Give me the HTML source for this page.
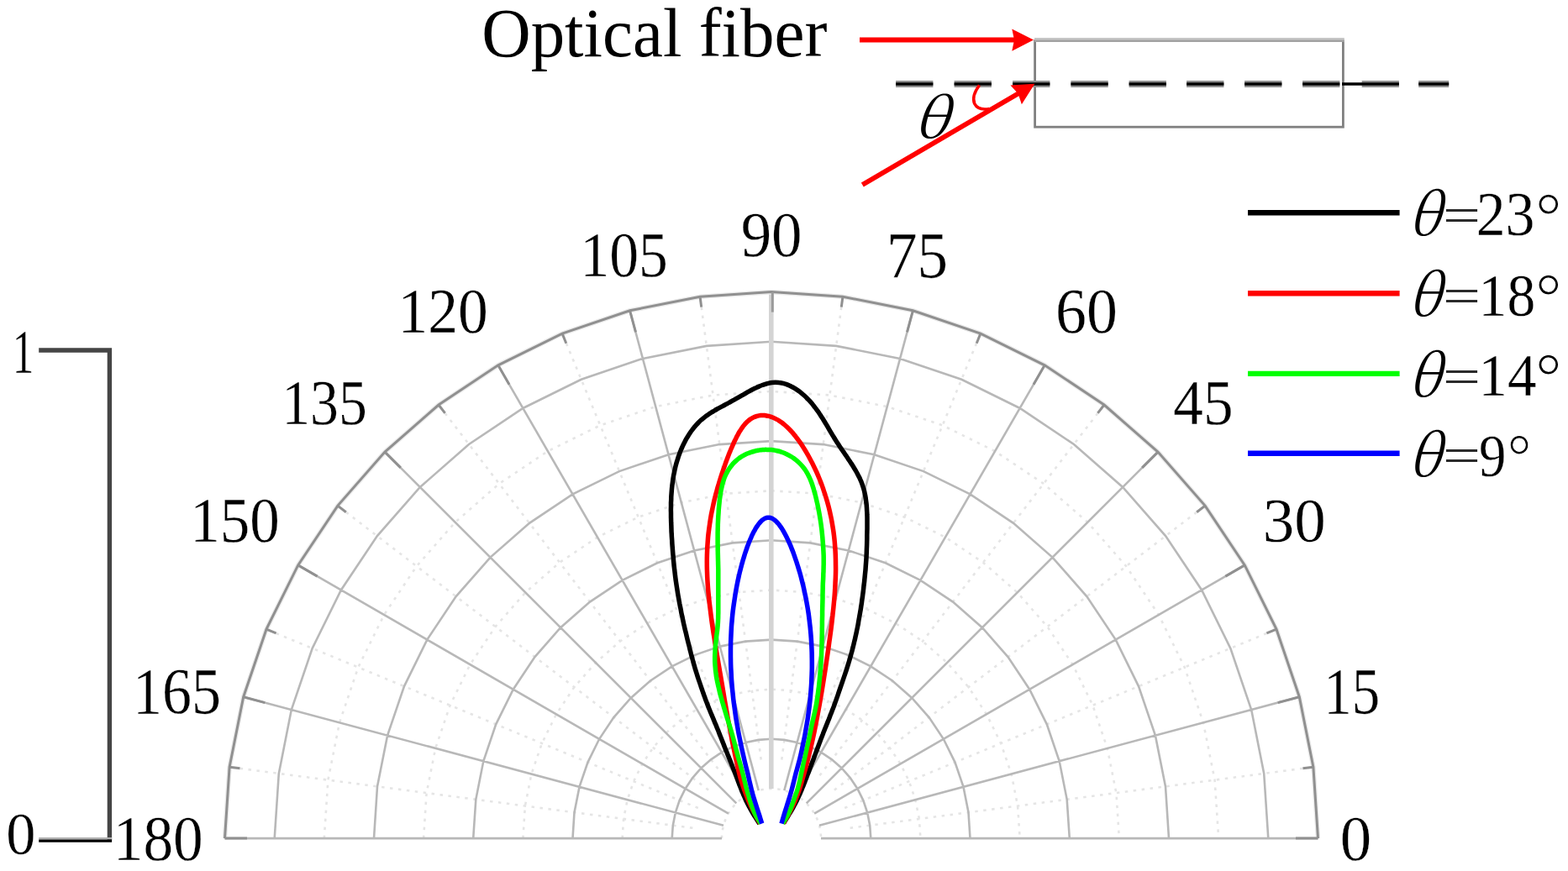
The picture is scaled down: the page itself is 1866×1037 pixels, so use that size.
<!DOCTYPE html>
<html lang="en">
<head>
<meta charset="utf-8">
<title>Optical fiber polar plot</title>
<style>
html,body{margin:0;padding:0;background:#fff;}
body{width:1866px;height:1037px;overflow:hidden;}
svg{display:block;}
text{font-family:"Liberation Serif","DejaVu Serif",serif;}
.th{font-family:"Noto Serif CJK SC","Liberation Serif",serif;font-weight:400;}
</style>
</head>
<body>
<svg width="1866" height="1037" viewBox="0 0 1866 1037">
<rect width="1866" height="1037" fill="#fff"/>
<g fill="none">
<path d="M858.9 998.1L859.4 990.4L860.9 982.8L863.4 975.5L866.8 968.5L871.1 962.1L876.2 956.3L882 951.2L888.4 946.9L895.4 943.5L902.7 941L910.3 939.5L918 939L925.7 939.5L933.3 941L940.6 943.5L947.6 946.9L954 951.2L959.8 956.3L964.9 962.1L969.2 968.5L972.6 975.5L975.1 982.8L976.6 990.4L977.1 998.1M740.6 998.1L742.1 974.9L746.7 952.2L754.1 930.2L764.4 909.4L777.3 890.1L792.6 872.7L810 857.4L829.3 844.5L850.1 834.2L872.1 826.8L894.8 822.2L918 820.7L941.2 822.2L963.9 826.8L985.9 834.2L1006.7 844.5L1026 857.4L1043.4 872.7L1058.7 890.1L1071.6 909.4L1081.9 930.2L1089.3 952.2L1093.9 974.9L1095.4 998.1M622.4 998.1L624.9 959.5L632.4 921.6L644.9 885L662 850.3L683.4 818.1L708.9 789L738 763.5L770.2 742.1L804.9 725L841.5 712.5L879.4 705L918 702.5L956.6 705L994.5 712.5L1031.1 725L1065.8 742.1L1098 763.5L1127.1 789L1152.6 818.1L1174 850.3L1191.1 885L1203.6 921.6L1211.1 959.5L1213.7 998.1M504.1 998.1L507.6 944.1L518.2 891L535.6 839.7L559.5 791.1L589.6 746.1L625.3 705.4L666 669.7L711 639.6L759.6 615.7L810.9 598.3L864 587.7L918 584.2L972 587.7L1025.1 598.3L1076.4 615.7L1125 639.6L1170 669.7L1210.7 705.4L1246.4 746.1L1276.5 791.1L1300.4 839.7L1317.8 891L1328.4 944.1L1331.9 998.1M385.8 998.1L390.4 928.6L404 860.4L426.3 794.4L457.1 732L495.8 674.1L541.7 621.8L594 575.9L651.9 537.2L714.3 506.4L780.3 484.1L848.5 470.5L918 465.9L987.5 470.5L1055.7 484.1L1121.7 506.4L1184.1 537.2L1242 575.9L1294.3 621.8L1340.2 674.1L1378.9 732L1409.7 794.4L1432 860.4L1445.6 928.6L1450.2 998.1M1011.6 985.8L1562.9 913.2M1005.2 962L1519 749.2M992.9 940.6L1434.1 602.1M975.5 923.2L1314 482M954.1 910.9L1166.9 397.1M930.3 904.5L1002.9 353.2M905.7 904.5L833.1 353.2M881.9 910.9L669.1 397.1M860.5 923.2L522 482M843.1 940.6L401.9 602.1M830.8 962L317 749.2M824.4 985.8L273.1 913.2" stroke="#e5e5e5" stroke-width="2.6" stroke-dasharray="3.5 6.5"/>
<path d="M799.7 998.1L800.8 982.7L803.8 967.5L808.7 952.8L815.6 939L824.2 926.1L834.4 914.5L846 904.3L858.9 895.7L872.7 888.8L887.4 883.9L902.6 880.9L918 879.8L933.4 880.9L948.6 883.9L963.3 888.8L977.1 895.7L990 904.3L1001.6 914.5L1011.8 926.1L1020.4 939L1027.3 952.8L1032.2 967.5L1035.2 982.7L1036.3 998.1M681.5 998.1L683.5 967.2L689.5 936.9L699.5 907.6L713.2 879.8L730.4 854.1L750.8 830.9L774 810.5L799.7 793.3L827.5 779.6L856.8 769.6L887.1 763.6L918 761.6L948.9 763.6L979.2 769.6L1008.5 779.6L1036.3 793.3L1062 810.5L1085.2 830.9L1105.6 854.1L1122.8 879.8L1136.5 907.6L1146.5 936.9L1152.5 967.2L1154.5 998.1M563.2 998.1L566.3 951.8L575.3 906.3L590.2 862.3L610.8 820.7L636.5 782.1L667.1 747.2L702 716.6L740.6 690.9L782.2 670.3L826.2 655.4L871.7 646.4L918 643.3L964.3 646.4L1009.8 655.4L1053.8 670.3L1095.4 690.9L1134 716.6L1168.9 747.2L1199.5 782.1L1225.2 820.7L1245.8 862.3L1260.7 906.3L1269.7 951.8L1272.8 998.1M445 998.1L449 936.4L461.1 875.7L481 817.1L508.3 761.6L542.7 710.1L583.5 663.6L630 622.8L681.5 588.4L737 561.1L795.6 541.2L856.3 529.1L918 525.1L979.7 529.1L1040.4 541.2L1099 561.1L1154.5 588.4L1206 622.8L1252.5 663.6L1293.3 710.1L1327.7 761.6L1355 817.1L1374.9 875.7L1387 936.4L1391 998.1M326.7 998.1L331.8 920.9L346.8 845.1L371.7 771.8L405.9 702.5L448.9 638.1L499.9 580L558 529L622.4 486L691.7 451.8L765 426.9L840.8 411.9L918 406.8L995.2 411.9L1071 426.9L1144.3 451.8L1213.7 486L1278 529L1336.1 580L1387.1 638.1L1430.1 702.5L1464.3 771.8L1489.2 845.1L1504.2 920.9L1509.3 998.1M977 998.1L1568.5 998.1M975 982.8L1546.3 829.7M969.1 968.6L1481.3 672.9M959.7 956.4L1378 538.1M947.5 947L1243.2 434.8M933.3 941.1L1086.4 369.8M902.7 941.1L749.6 369.8M888.5 947L592.8 434.8M876.3 956.4L458 538.1M866.9 968.6L354.7 672.9M861 982.8L289.7 829.7M859 998.1L267.5 998.1" stroke="#b8b8b8" stroke-width="2.6"/>
<path d="M917.8 939.1V347.6" stroke="#d4d4d4" stroke-width="5.6"/>
<path d="M267.5 998.1L273.1 913.2L289.7 829.7L317 749.2L354.7 672.9L401.9 602.1L458 538.1L522 482L592.8 434.8L669.1 397.1L749.6 369.8L833.1 353.2L918 347.6L1002.9 353.2L1086.4 369.8L1166.9 397.1L1243.2 434.8L1314 482L1378 538.1L1434.1 602.1L1481.3 672.9L1519 749.2L1546.3 829.7L1562.9 913.2L1568.5 998.1" stroke="#ebebeb" stroke-width="5.6"/>
<path d="M267.5 998.1L273.1 913.2L289.7 829.7L317 749.2L354.7 672.9L401.9 602.1L458 538.1L522 482L592.8 434.8L669.1 397.1L749.6 369.8L833.1 353.2L918 347.6L1002.9 353.2L1086.4 369.8L1166.9 397.1L1243.2 434.8L1314 482L1378 538.1L1434.1 602.1L1481.3 672.9L1519 749.2L1546.3 829.7L1562.9 913.2L1568.5 998.1M1542 998.1L1568.5 998.1M1520.7 836.6L1546.3 829.7M1458.4 686.1L1481.3 672.9M1359.2 556.9L1378 538.1M1230 457.7L1243.2 434.8M1079.5 395.4L1086.4 369.8M756.5 395.4L749.6 369.8M606 457.7L592.8 434.8M476.8 556.9L458 538.1M377.6 686.1L354.7 672.9M315.3 836.6L289.7 829.7M294 998.1L267.5 998.1M1550.5 914.8L1562.9 913.2M1507.4 753.9L1519 749.2M1424.2 609.7L1434.1 602.1M1306.4 491.9L1314 482M1162.2 408.7L1166.9 397.1M1001.3 365.6L1002.9 353.2M834.7 365.6L833.1 353.2M673.8 408.7L669.1 397.1M529.6 491.9L522 482M411.8 609.7L401.9 602.1M328.6 753.9L317 749.2M285.5 914.8L273.1 913.2" stroke="#909090" stroke-width="3"/>
<path d="M919.3 347.6v24" stroke="#9a9a9a" stroke-width="3"/>
</g>
<g fill="none" stroke-linejoin="round">
<path d="M903.8 980.5C903.4 980 902.3 978.3 901.6 977.2C900.9 976.1 900.1 974.9 899.4 973.8C898.7 972.7 898 971.5 897.3 970.4C896.6 969.3 895.9 968.1 895.2 967C894.5 965.9 893.9 964.7 893.2 963.5C892.6 962.3 891.9 961.2 891.3 960C890.7 958.8 890.1 957.7 889.5 956.5C888.9 955.3 888.3 954.1 887.7 952.9C887.1 951.7 886.6 950.5 886.1 949.3C885.6 948.1 885 946.8 884.5 945.6C884 944.4 883.4 943.1 882.9 941.9C882.4 940.7 882 939.4 881.5 938.2C881 937 880.5 935.8 880 934.5C879.5 933.2 879.1 932 878.6 930.7C878.1 929.5 877.7 928.2 877.2 927C876.7 925.8 876.3 924.5 875.8 923.3C875.3 922 874.9 920.8 874.4 919.5C873.9 918.2 873.4 917 872.9 915.8C872.4 914.6 872 913.4 871.5 912.1C871 910.9 870.5 909.5 870 908.3C869.5 907 869 905.8 868.5 904.6C868 903.4 867.5 902.1 867 900.9C866.5 899.7 866 898.4 865.5 897.2C865 896 864.5 894.7 864 893.5C863.5 892.3 863 891 862.5 889.8C862 888.6 861.6 887.3 861.1 886.1C860.6 884.9 860.1 883.6 859.6 882.4C859.1 881.1 858.6 879.9 858.1 878.6C857.6 877.4 857.1 876.1 856.6 874.9C856.1 873.7 855.7 872.4 855.2 871.2C854.7 870 854.2 868.7 853.7 867.5C853.2 866.3 852.7 865 852.2 863.8C851.7 862.6 851.1 861.3 850.6 860.1C850.1 858.9 849.6 857.6 849.1 856.4C848.6 855.2 848.1 853.9 847.6 852.7C847.1 851.5 846.5 850.2 846 849C845.5 847.8 845 846.5 844.5 845.3C844 844.1 843.5 842.8 843 841.6C842.5 840.4 842.1 839.1 841.6 837.9C841.1 836.6 840.6 835.4 840.1 834.1C839.6 832.9 839.2 831.6 838.8 830.4C838.3 829.1 837.8 827.9 837.4 826.6C837 825.4 836.5 824.1 836.1 822.9C835.7 821.6 835.2 820.4 834.8 819.1C834.4 817.8 833.9 816.6 833.5 815.3C833.1 814 832.6 812.8 832.2 811.5C831.8 810.2 831.3 809 830.9 807.7C830.5 806.4 830.1 805.2 829.7 803.9C829.3 802.6 828.9 801.4 828.5 800.1C828.1 798.8 827.7 797.6 827.3 796.3C826.9 795 826.6 793.7 826.2 792.4C825.8 791.1 825.5 789.9 825.1 788.6C824.8 787.3 824.5 786 824.1 784.7C823.8 783.4 823.4 782.2 823 780.9C822.6 779.6 822.3 778.3 822 777C821.7 775.7 821.3 774.4 821 773.1C820.7 771.8 820.4 770.5 820.1 769.2C819.8 767.9 819.4 766.6 819.1 765.3C818.8 764 818.4 762.8 818.1 761.5C817.8 760.2 817.5 758.9 817.2 757.6C816.9 756.3 816.6 755 816.3 753.7C816 752.4 815.6 751.1 815.3 749.8C815 748.5 814.7 747.2 814.4 745.9C814.1 744.6 813.8 743.3 813.5 742C813.2 740.7 813 739.4 812.7 738.1C812.4 736.8 812.2 735.5 811.9 734.2C811.6 732.9 811.3 731.6 811 730.3C810.7 729 810.5 727.6 810.3 726.3C810 725 809.8 723.7 809.5 722.4C809.2 721.1 809 719.8 808.7 718.5C808.5 717.2 808.2 715.9 808 714.6C807.8 713.3 807.5 711.9 807.3 710.6C807.1 709.3 806.8 708 806.6 706.7C806.4 705.4 806.2 704 806 702.7C805.8 701.4 805.6 700.1 805.4 698.8C805.2 697.5 805 696.1 804.8 694.8C804.6 693.5 804.4 692.2 804.2 690.9C804 689.6 803.9 688.2 803.7 686.9C803.5 685.6 803.4 684.2 803.2 682.9C803.1 681.6 802.9 680.3 802.8 679C802.6 677.7 802.4 676.3 802.3 675C802.1 673.7 802 672.3 801.9 671C801.8 669.7 801.6 668.3 801.5 667C801.4 665.7 801.3 664.3 801.2 663C801.1 661.7 800.9 660.3 800.8 659C800.7 657.7 800.6 656.3 800.5 655C800.4 653.7 800.3 652.3 800.2 651C800.1 649.7 800 648.4 799.9 647.1C799.8 645.8 799.8 644.4 799.7 643.1C799.6 641.8 799.5 640.5 799.4 639.1C799.3 637.8 799.3 636.4 799.2 635C799.1 633.6 799 632.3 799 631C799 629.7 798.9 628.3 798.9 627C798.9 625.7 798.8 624.3 798.7 623C798.7 621.7 798.6 620.3 798.6 619C798.6 617.7 798.5 616.3 798.5 615C798.5 613.7 798.5 612.3 798.5 611C798.5 609.7 798.4 608.3 798.4 607C798.4 605.7 798.5 604.3 798.5 603C798.5 601.7 798.5 600.3 798.5 599C798.5 597.7 798.7 596.3 798.7 595C798.8 593.7 798.7 592.4 798.8 591.1C798.9 589.8 799 588.4 799.1 587.1C799.2 585.8 799.3 584.4 799.4 583.1C799.5 581.8 799.6 580.4 799.8 579.1C799.9 577.8 800.1 576.5 800.3 575.2C800.5 573.9 800.6 572.5 800.8 571.2C801 569.9 801.2 568.6 801.4 567.3C801.6 566 801.9 564.7 802.2 563.4C802.5 562.1 802.7 560.7 803 559.4C803.3 558.1 803.6 556.8 803.9 555.5C804.2 554.2 804.5 552.9 804.9 551.6C805.3 550.3 805.7 549 806.1 547.7C806.5 546.4 806.9 545.2 807.3 543.9C807.7 542.6 808.2 541.4 808.7 540.1C809.2 538.8 809.6 537.5 810.1 536.3C810.6 535 811.2 533.8 811.7 532.6C812.2 531.4 812.8 530.1 813.4 528.9C814 527.7 814.6 526.6 815.2 525.4C815.8 524.2 816.4 523.1 817.1 521.9C817.8 520.7 818.5 519.5 819.2 518.4C819.9 517.3 820.6 516.2 821.4 515.1C822.1 514 822.9 512.9 823.7 511.9C824.5 510.8 825.3 509.8 826.1 508.8C826.9 507.8 827.7 506.9 828.6 505.9C829.5 504.9 830.4 503.9 831.3 503C832.2 502.1 833.1 501.2 834.1 500.3C835.1 499.4 836.1 498.6 837.1 497.8C838.1 497 839.2 496.2 840.2 495.4C841.2 494.6 842.3 493.9 843.4 493.2C844.5 492.5 845.6 491.7 846.7 491C847.8 490.3 849 489.7 850.1 489C851.2 488.3 852.4 487.6 853.5 487C854.6 486.4 855.8 485.7 857 485.1C858.2 484.5 859.4 483.8 860.6 483.2C861.8 482.6 862.9 481.9 864.1 481.3C865.3 480.7 866.5 480 867.7 479.4C868.9 478.8 870 478.1 871.2 477.4C872.4 476.7 873.6 476.1 874.8 475.4C876 474.7 877.1 474.1 878.3 473.4C879.5 472.7 880.7 472 881.9 471.3C883.1 470.6 884.3 470 885.5 469.3C886.7 468.6 888 467.9 889.2 467.2C890.4 466.5 891.6 465.9 892.8 465.2C894 464.5 895.2 463.8 896.5 463.2C897.8 462.6 899 462 900.3 461.4C901.5 460.8 902.8 460.3 904 459.8C905.2 459.3 906.5 458.8 907.8 458.3C909 457.9 910.2 457.5 911.5 457.1C912.8 456.7 914 456.4 915.3 456.1C916.5 455.8 917.8 455.6 919 455.5C920.2 455.4 921.5 455.3 922.8 455.3C924 455.3 925.3 455.3 926.5 455.4C927.7 455.5 928.9 455.8 930.1 456C931.3 456.2 932.6 456.5 933.8 456.9C935 457.2 936.1 457.6 937.3 458.1C938.5 458.6 939.7 459.1 940.9 459.7C942.1 460.3 943.2 460.9 944.3 461.5C945.4 462.1 946.6 462.9 947.7 463.6C948.8 464.3 949.8 465 950.9 465.8C952 466.6 953 467.4 954.1 468.3C955.2 469.2 956.2 470.1 957.2 471C958.2 471.9 959.2 472.9 960.1 473.8C961 474.8 962 475.7 962.9 476.7C963.8 477.7 964.7 478.7 965.6 479.7C966.5 480.7 967.3 481.8 968.1 482.8C968.9 483.9 969.8 484.9 970.6 486C971.4 487.1 972.1 488.1 972.9 489.2C973.7 490.3 974.5 491.4 975.2 492.5C976 493.6 976.7 494.8 977.4 495.9C978.1 497 978.9 498.2 979.6 499.3C980.3 500.4 981 501.6 981.7 502.7C982.4 503.8 983 505 983.7 506.1C984.4 507.2 985.1 508.4 985.8 509.6C986.5 510.8 987.1 511.9 987.8 513.1C988.5 514.3 989.2 515.5 989.9 516.6C990.6 517.8 991.3 518.9 992 520C992.7 521.1 993.4 522.4 994.1 523.5C994.8 524.6 995.6 525.8 996.3 526.9C997 528 997.8 529.2 998.5 530.3C999.2 531.4 1000 532.5 1000.7 533.6C1001.5 534.7 1002.2 535.8 1003 536.9C1003.8 538 1004.5 539.2 1005.3 540.3C1006.1 541.4 1006.9 542.5 1007.6 543.6C1008.4 544.7 1009.1 545.8 1009.8 546.9C1010.5 548 1011.3 549.1 1012 550.2C1012.7 551.3 1013.5 552.4 1014.2 553.5C1014.9 554.6 1015.6 555.8 1016.3 556.9C1017 558 1017.6 559.2 1018.3 560.3C1018.9 561.4 1019.6 562.6 1020.2 563.7C1020.8 564.9 1021.4 566 1022 567.2C1022.6 568.4 1023.2 569.5 1023.7 570.7C1024.2 571.9 1024.7 573 1025.2 574.2C1025.7 575.4 1026.1 576.7 1026.5 577.9C1026.9 579.1 1027.3 580.4 1027.7 581.6C1028.1 582.8 1028.4 584 1028.7 585.3C1029 586.6 1029.2 587.9 1029.5 589.2C1029.8 590.5 1030 591.7 1030.2 593C1030.4 594.3 1030.5 595.7 1030.7 597C1030.9 598.3 1031.1 599.6 1031.2 600.9C1031.3 602.2 1031.4 603.6 1031.5 605C1031.6 606.4 1031.6 607.7 1031.7 609C1031.8 610.3 1031.9 611.6 1031.9 613C1032 614.4 1032 615.7 1032 617.1C1032 618.5 1032 619.8 1032 621.2C1032 622.6 1032 623.9 1032 625.3C1032 626.7 1032 628 1032 629.4C1032 630.8 1031.9 632 1031.9 633.4C1031.9 634.8 1031.8 636.1 1031.8 637.5C1031.8 638.9 1031.8 640.2 1031.8 641.6C1031.8 643 1031.7 644.3 1031.7 645.6C1031.7 646.9 1031.6 648.2 1031.6 649.6C1031.5 651 1031.5 652.4 1031.4 653.7C1031.4 655.1 1031.3 656.4 1031.3 657.7C1031.2 659 1031.2 660.4 1031.1 661.7C1031 663.1 1031 664.4 1030.9 665.8C1030.8 667.1 1030.7 668.5 1030.6 669.8C1030.5 671.1 1030.4 672.4 1030.3 673.8C1030.2 675.2 1030.1 676.8 1030 678.2C1029.9 679.6 1029.7 680.9 1029.6 682.2C1029.5 683.5 1029.3 684.9 1029.2 686.2C1029.1 687.5 1028.9 688.9 1028.8 690.2C1028.7 691.5 1028.6 692.9 1028.4 694.2C1028.2 695.5 1028.1 696.8 1027.9 698.1C1027.8 699.4 1027.7 700.8 1027.5 702.1C1027.3 703.4 1027.2 704.8 1027 706.1C1026.8 707.4 1026.7 708.7 1026.5 710C1026.3 711.3 1026.1 712.7 1025.9 714C1025.7 715.3 1025.6 716.7 1025.4 718C1025.2 719.3 1025 720.6 1024.8 721.9C1024.6 723.2 1024.4 724.6 1024.2 725.9C1024 727.2 1023.7 728.5 1023.5 729.8C1023.3 731.1 1023 732.5 1022.8 733.8C1022.6 735.1 1022.3 736.4 1022.1 737.7C1021.9 739 1021.6 740.3 1021.4 741.6C1021.2 742.9 1021 744.3 1020.7 745.6C1020.5 746.9 1020.2 748.2 1019.9 749.5C1019.6 750.8 1019.4 752.1 1019.1 753.4C1018.8 754.7 1018.5 756 1018.2 757.3C1017.9 758.6 1017.7 759.9 1017.4 761.2C1017.1 762.5 1016.7 763.8 1016.4 765.1C1016.1 766.4 1015.8 767.7 1015.5 769C1015.2 770.3 1014.8 771.6 1014.5 772.9C1014.2 774.2 1013.9 775.4 1013.5 776.7C1013.1 778 1012.8 779.3 1012.4 780.6C1012 781.9 1011.7 783.1 1011.3 784.4C1010.9 785.7 1010.6 787 1010.2 788.3C1009.8 789.6 1009.4 790.8 1009 792.1C1008.6 793.4 1008.2 794.6 1007.8 795.9C1007.4 797.2 1007 798.4 1006.6 799.7C1006.2 801 1005.7 802.2 1005.3 803.5C1004.9 804.8 1004.4 806 1004 807.3C1003.6 808.6 1003.1 809.9 1002.7 811.1C1002.3 812.4 1001.8 813.5 1001.4 814.8C1001 816 1000.5 817.3 1000.1 818.6C999.7 819.9 999.2 821.1 998.8 822.4C998.4 823.7 997.9 824.9 997.5 826.2C997.1 827.5 996.6 828.8 996.2 830C995.8 831.2 995.4 832.5 994.9 833.7C994.4 835 994 836.2 993.5 837.5C993 838.8 992.7 840 992.2 841.3C991.7 842.5 991.2 843.8 990.7 845C990.2 846.2 989.8 847.5 989.3 848.7C988.8 850 988.3 851.2 987.8 852.5C987.3 853.8 986.9 855 986.4 856.2C985.9 857.4 985.4 858.7 984.9 859.9C984.4 861.1 983.9 862.4 983.4 863.6C982.9 864.8 982.4 866.1 981.9 867.3C981.4 868.5 980.9 869.8 980.4 871C979.9 872.2 979.5 873.5 979 874.8C978.5 876 978 877.3 977.5 878.5C977 879.7 976.6 881 976.1 882.2C975.6 883.5 975.2 884.8 974.7 886C974.2 887.2 973.8 888.5 973.3 889.7C972.8 891 972.4 892.2 971.9 893.5C971.4 894.8 971 896 970.5 897.2C970 898.4 969.6 899.6 969.1 900.9C968.6 902.1 968.2 903.5 967.7 904.7C967.2 906 966.8 907.1 966.3 908.4C965.8 909.6 965.4 911 964.9 912.2C964.4 913.5 964 914.6 963.5 915.9C963 917.1 962.6 918.5 962.1 919.7C961.6 921 961.1 922.1 960.6 923.4C960.1 924.6 959.7 926 959.2 927.2C958.7 928.5 958.3 929.7 957.8 930.9C957.3 932.1 956.8 933.4 956.3 934.6C955.8 935.8 955.3 937.1 954.8 938.3C954.3 939.5 953.8 940.8 953.3 942C952.8 943.2 952.2 944.5 951.7 945.7C951.2 946.9 950.6 948.1 950 949.3C949.4 950.5 948.9 951.7 948.3 952.9C947.7 954.1 947.1 955.3 946.5 956.5C945.9 957.7 945.2 958.8 944.6 960C944 961.2 943.4 962.4 942.7 963.5C942 964.6 941.3 965.8 940.6 966.9C939.9 968 939.3 969.1 938.6 970.3C937.9 971.4 937.2 972.6 936.5 973.8C935.8 974.9 935 976.2 934.4 977.2C933.8 978.2 933.1 979.3 932.9 979.7" stroke="#000000" stroke-width="5.5"/>
<path d="M904.5 980.5C903.3 978.2 899.4 971.3 897.1 966.7C894.8 962.1 892.6 957.6 890.7 953.1C888.8 948.6 887.1 944.1 885.5 939.7C883.9 935.3 882.5 930.9 881.2 926.5C880 922.1 879 917.9 878 913.6C877 909.3 876.1 905 875.2 900.8C874.3 896.6 873.4 892.4 872.5 888.2C871.6 884 870.9 879.9 870.1 875.8C869.3 871.7 868.5 867.6 867.8 863.6C867 859.6 866.3 855.6 865.6 851.6C864.9 847.6 864.2 843.7 863.5 839.8C862.8 835.9 862.1 832.1 861.5 828.2C860.9 824.4 860.2 820.5 859.6 816.7C859 812.9 858.3 809.2 857.7 805.5C857.1 801.8 856.4 798.1 855.8 794.5C855.2 790.9 854.6 787.3 854 783.7C853.4 780.1 852.8 776.6 852.2 773.1C851.6 769.6 851 766.1 850.5 762.7C850 759.3 849.4 755.9 848.9 752.5C848.4 749.1 847.9 745.8 847.4 742.5C846.9 739.2 846.5 735.9 846.1 732.6C845.7 729.4 845.3 726.2 844.9 723C844.5 719.8 844.1 716.7 843.8 713.6C843.5 710.5 843.2 707.5 842.9 704.4C842.6 701.3 842.4 698.3 842.2 695.3C842 692.3 841.8 689.4 841.7 686.5C841.6 683.6 841.5 680.7 841.4 677.9C841.3 675.1 841.3 672.3 841.3 669.5C841.3 666.7 841.3 663.9 841.4 661.2C841.5 658.5 841.6 655.8 841.7 653.2C841.8 650.6 842 648 842.2 645.4C842.4 642.8 842.5 640.2 842.8 637.7C843 635.2 843.4 632.8 843.7 630.3C844 627.8 844.4 625.4 844.7 623C845.1 620.6 845.4 618.3 845.8 616C846.2 613.7 846.6 611.5 847.1 609.2C847.6 607 848 604.7 848.5 602.5C849 600.3 849.4 598.2 849.9 596.1C850.4 594 851 591.8 851.5 589.8C852 587.8 852.6 585.8 853.1 583.8C853.6 581.8 854.2 579.8 854.8 577.9C855.4 576 855.9 574.1 856.5 572.3C857.1 570.4 857.6 568.6 858.2 566.8C858.8 565 859.4 563.2 860 561.5C860.6 559.8 861.1 558.1 861.7 556.5C862.3 554.9 862.8 553.2 863.4 551.6C864 550 864.5 548.5 865.1 547C865.7 545.5 866.2 544 866.8 542.5C867.4 541 867.9 539.6 868.5 538.2C869.1 536.8 869.6 535.5 870.2 534.2C870.8 532.9 871.4 531.6 871.9 530.3C872.4 529 873 527.8 873.5 526.6C874 525.4 874.7 524.3 875.2 523.2C875.8 522.1 876.2 521 876.8 519.9C877.3 518.8 878 517.8 878.5 516.8C879 515.8 879.6 514.8 880.1 513.9C880.6 513 881.2 512.1 881.8 511.3C882.4 510.5 882.9 509.6 883.5 508.8C884.1 508 884.6 507.2 885.2 506.5C885.8 505.8 886.4 505.1 887 504.4C887.6 503.7 888.2 503.1 888.8 502.5C889.4 501.9 890.1 501.3 890.7 500.8C891.3 500.3 892 499.8 892.6 499.4C893.2 498.9 893.9 498.5 894.6 498.1C895.3 497.7 896 497.3 896.7 497C897.4 496.7 898 496.4 898.7 496.1C899.4 495.8 900.2 495.6 900.9 495.4C901.6 495.2 902.4 495 903.1 494.9C903.8 494.8 904.5 494.7 905.3 494.6C906 494.5 906.8 494.5 907.6 494.5C908.4 494.5 909.1 494.5 909.9 494.6C910.7 494.7 911.5 494.8 912.3 494.9C913.1 495 913.9 495.2 914.7 495.4C915.5 495.6 916.3 495.8 917.1 496.1C917.9 496.4 918.7 496.7 919.5 497C920.3 497.3 921.2 497.7 922 498.1C922.8 498.5 923.7 498.9 924.5 499.4C925.3 499.8 926.2 500.3 927 500.8C927.8 501.3 928.7 501.9 929.5 502.5C930.3 503.1 931.2 503.7 932 504.4C932.8 505.1 933.7 505.8 934.5 506.5C935.3 507.2 936.2 508 937 508.8C937.8 509.6 938.7 510.5 939.5 511.3C940.3 512.1 941.2 513 942 513.9C942.8 514.8 943.7 515.8 944.5 516.8C945.3 517.8 946.2 518.8 947 519.9C947.8 521 948.7 522.1 949.5 523.2C950.3 524.3 951.2 525.4 952 526.6C952.8 527.8 953.7 529 954.5 530.3C955.3 531.6 956.2 532.9 957 534.2C957.8 535.5 958.6 536.8 959.4 538.2C960.2 539.6 961.1 541 961.9 542.5C962.7 544 963.5 545.5 964.3 547C965.1 548.5 965.9 550 966.7 551.6C967.5 553.2 968.3 554.9 969.1 556.5C969.9 558.1 970.7 559.8 971.5 561.5C972.3 563.2 973 565 973.8 566.8C974.5 568.6 975.3 570.4 976 572.3C976.7 574.1 977.5 576 978.2 577.9C978.9 579.8 979.5 581.8 980.2 583.8C980.9 585.8 981.6 587.8 982.2 589.8C982.9 591.8 983.5 594 984.1 596.1C984.7 598.2 985.3 600.3 985.9 602.5C986.5 604.7 987 607 987.5 609.2C988 611.5 988.5 613.7 989 616C989.5 618.3 989.9 620.6 990.3 623C990.7 625.4 991.1 627.8 991.5 630.3C991.9 632.8 992.2 635.2 992.5 637.7C992.8 640.2 993.1 642.8 993.3 645.4C993.5 648 993.7 650.6 993.9 653.2C994.1 655.8 994.2 658.5 994.3 661.2C994.4 663.9 994.5 666.7 994.5 669.5C994.5 672.3 994.6 675.1 994.6 677.9C994.6 680.7 994.5 683.6 994.4 686.5C994.3 689.4 994.1 692.3 994 695.3C993.9 698.3 993.7 701.3 993.5 704.4C993.3 707.5 993.1 710.5 992.8 713.6C992.5 716.7 992.2 719.8 991.9 723C991.6 726.2 991.2 729.4 990.9 732.6C990.5 735.9 990.2 739.2 989.8 742.5C989.4 745.8 989 749.1 988.5 752.5C988 755.9 987.6 759.3 987.1 762.7C986.6 766.1 986.2 769.6 985.7 773.1C985.2 776.6 984.6 780.1 984.1 783.7C983.6 787.3 983 790.9 982.5 794.5C982 798.1 981.4 801.8 980.8 805.5C980.2 809.2 979.6 812.9 979 816.7C978.4 820.5 977.8 824.4 977.1 828.2C976.5 832.1 975.8 835.9 975.1 839.8C974.4 843.7 973.6 847.6 972.9 851.6C972.1 855.6 971.4 859.6 970.6 863.6C969.8 867.6 969 871.7 968.1 875.8C967.2 879.9 966.3 884 965.3 888.2C964.3 892.4 963.3 896.6 962.3 900.8C961.2 905 960.2 909.3 959 913.6C957.8 917.9 956.6 922.1 955.3 926.5C954 930.9 952.9 935.3 951.4 939.7C949.9 944.1 948.3 948.6 946.4 953.1C944.5 957.6 942.2 962.1 939.8 966.7C937.4 971.3 933.4 978.2 932.1 980.5" stroke="#ff0000" stroke-width="5.5"/>
<path d="M905.3 980.5C904.9 979.9 903.9 978.2 903.2 977.1C902.5 976 901.8 974.9 901.1 973.7C900.4 972.6 899.8 971.4 899.2 970.2C898.6 969 898 967.9 897.5 966.7C897 965.5 896.5 964.2 896 963C895.5 961.8 895.1 960.5 894.6 959.2C894.1 958 893.7 956.8 893.3 955.5C892.9 954.2 892.5 952.9 892.1 951.6C891.7 950.3 891.4 949.1 891 947.8C890.6 946.5 890.2 945.3 889.8 944C889.4 942.7 889.1 941.4 888.8 940.1C888.4 938.8 888 937.6 887.7 936.3C887.4 935 887.1 933.7 886.8 932.4C886.5 931.1 886.1 929.8 885.8 928.5C885.5 927.2 885.2 925.9 884.9 924.6C884.6 923.3 884.2 922 883.9 920.7C883.6 919.4 883.2 918.2 882.9 916.9C882.5 915.6 882.2 914.3 881.8 913C881.4 911.7 881.1 910.5 880.7 909.2C880.3 907.9 880 906.6 879.6 905.3C879.2 904 878.9 902.8 878.5 901.5C878.1 900.2 877.9 898.9 877.5 897.6C877.1 896.3 876.8 895.1 876.4 893.8C876 892.5 875.7 891.2 875.4 889.9C875.1 888.6 874.7 887.3 874.4 886C874.1 884.7 873.7 883.5 873.4 882.2C873.1 880.9 872.8 879.6 872.4 878.3C872 877 871.7 875.7 871.3 874.4C870.9 873.1 870.6 871.9 870.2 870.6C869.8 869.3 869.5 868.1 869.1 866.8C868.7 865.5 868.3 864.2 867.9 862.9C867.5 861.6 867.1 860.4 866.7 859.1C866.3 857.8 865.9 856.6 865.5 855.3C865.1 854 864.7 852.8 864.3 851.5C863.9 850.2 863.6 849 863.2 847.7C862.8 846.4 862.4 845.1 862 843.8C861.6 842.5 861.3 841.3 860.9 840C860.5 838.7 860.2 837.5 859.8 836.2C859.4 834.9 859.1 833.6 858.7 832.3C858.3 831 858 829.7 857.6 828.4C857.2 827.1 856.9 825.9 856.6 824.6C856.3 823.3 856 822 855.7 820.7C855.4 819.4 855.1 818.1 854.8 816.8C854.5 815.5 854.2 814.2 853.9 812.9C853.6 811.6 853.4 810.3 853.1 809C852.9 807.7 852.6 806.3 852.4 805C852.2 803.7 852.1 802.4 851.9 801.1C851.7 799.8 851.5 798.4 851.4 797.1C851.3 795.8 851.2 794.5 851.1 793.2C851 791.9 850.9 790.5 850.8 789.2C850.7 787.9 850.7 786.5 850.7 785.2C850.7 783.9 850.7 782.5 850.7 781.2C850.7 779.9 850.8 778.5 850.9 777.2C851 775.9 851 774.5 851.1 773.2C851.2 771.9 851.3 770.5 851.4 769.2C851.5 767.9 851.7 766.5 851.8 765.2C851.9 763.9 852.1 762.6 852.2 761.3C852.4 760 852.5 758.6 852.7 757.3C852.9 756 853 754.6 853.2 753.3C853.4 752 853.6 750.7 853.7 749.4C853.9 748.1 854 746.7 854.1 745.4C854.2 744.1 854.3 742.7 854.4 741.4C854.5 740.1 854.5 738.7 854.6 737.4C854.7 736.1 854.7 734.7 854.7 733.4C854.7 732.1 854.8 730.7 854.8 729.4C854.8 728.1 854.8 726.7 854.8 725.4C854.8 724.1 854.8 722.7 854.8 721.4C854.8 720.1 854.8 718.7 854.8 717.4C854.8 716.1 854.8 714.7 854.8 713.4C854.8 712.1 854.8 710.7 854.8 709.4C854.8 708.1 854.8 706.6 854.8 705.4C854.8 704.2 854.8 703.4 854.8 702.2C854.8 701 854.8 699.5 854.8 698.2C854.8 696.9 854.8 695.5 854.8 694.2C854.8 692.9 854.8 691.5 854.8 690.2C854.8 688.9 854.8 687.5 854.8 686.2C854.8 684.9 854.8 683.5 854.8 682.2C854.8 680.9 854.8 679.5 854.8 678.2C854.8 676.9 854.7 675.6 854.7 674.3C854.7 673 854.6 671.6 854.6 670.3C854.6 669 854.5 667.6 854.5 666.3C854.5 665 854.4 663.6 854.4 662.3C854.4 661 854.3 659.6 854.3 658.3C854.3 657 854.2 655.7 854.2 654.4C854.2 653.1 854.2 651.7 854.2 650.4C854.2 649.1 854.1 647.7 854.1 646.4C854.1 645.1 854.1 643.7 854.1 642.4C854.1 641.1 854.1 639.7 854.1 638.4C854.1 637.1 854.1 635.8 854.1 634.5C854.1 633.2 854.2 631.8 854.2 630.5C854.2 629.2 854.3 627.8 854.3 626.5C854.3 625.2 854.3 623.8 854.4 622.5C854.5 621.2 854.5 619.8 854.6 618.5C854.7 617.2 854.7 615.9 854.8 614.5C854.9 613.1 855 611.8 855.1 610.4C855.2 609 855.2 607.7 855.3 606.4C855.4 605.1 855.6 603.7 855.7 602.4C855.8 601.1 856 599.8 856.1 598.4C856.2 597 856.3 595.6 856.5 594.3C856.7 592.9 856.9 591.6 857.1 590.3C857.3 588.9 857.5 587.5 857.7 586.2C857.9 584.9 858.1 583.6 858.4 582.3C858.7 581 859 579.6 859.3 578.3C859.6 577 859.9 575.8 860.3 574.5C860.7 573.2 861.1 572 861.5 570.7C861.9 569.5 862.4 568.2 862.9 567C863.4 565.8 864 564.6 864.6 563.5C865.2 562.4 865.8 561.2 866.5 560.1C867.2 559 867.9 557.9 868.6 556.8C869.4 555.7 870.2 554.7 871 553.7C871.8 552.7 872.7 551.7 873.6 550.8C874.5 549.9 875.5 549 876.5 548.1C877.5 547.2 878.5 546.4 879.5 545.6C880.5 544.8 881.7 544.1 882.8 543.4C883.9 542.7 885.1 542.1 886.3 541.5C887.5 540.9 888.8 540.3 890 539.8C891.2 539.3 892.5 538.7 893.8 538.3C895.1 537.9 896.4 537.5 897.7 537.2C899 536.9 900.4 536.5 901.7 536.3C903 536 904.4 535.9 905.7 535.7C907.1 535.6 908.4 535.5 909.8 535.4C911.2 535.3 912.5 535.4 913.9 535.4C915.3 535.4 916.6 535.5 918 535.6C919.4 535.7 920.7 535.9 922 536.1C923.3 536.3 924.7 536.7 926 537C927.3 537.3 928.5 537.7 929.8 538.1C931.1 538.5 932.4 539 933.6 539.5C934.8 540 936 540.6 937.2 541.2C938.4 541.8 939.6 542.4 940.7 543.1C941.9 543.8 943 544.5 944.1 545.2C945.2 546 946.2 546.8 947.2 547.6C948.2 548.4 949.2 549.3 950.2 550.2C951.2 551.1 952.1 552 953 553C953.9 554 954.8 555 955.6 556C956.4 557 957.2 558 958 559.1C958.8 560.2 959.4 561.3 960.1 562.4C960.8 563.5 961.4 564.7 962 565.9C962.6 567.1 963.2 568.3 963.7 569.5C964.2 570.7 964.7 571.9 965.2 573.1C965.7 574.3 966.2 575.6 966.6 576.9C967 578.2 967.4 579.4 967.8 580.7C968.2 582 968.5 583.3 968.9 584.6C969.3 585.9 969.6 587.2 970 588.5C970.4 589.8 970.7 591.1 971 592.4C971.3 593.7 971.6 595 971.9 596.3C972.2 597.6 972.5 598.9 972.8 600.2C973.1 601.5 973.3 602.9 973.6 604.2C973.9 605.5 974.1 606.8 974.4 608.1C974.6 609.4 974.9 610.7 975.1 612C975.3 613.3 975.6 614.7 975.8 616C976 617.3 976.2 618.6 976.4 619.9C976.6 621.2 976.8 622.6 977 623.9C977.2 625.2 977.3 626.5 977.5 627.8C977.7 629.1 977.9 630.5 978 631.8C978.1 633.1 978.3 634.5 978.4 635.8C978.5 637.1 978.7 638.4 978.8 639.7C978.9 641 979 642.4 979.1 643.7C979.2 645 979.3 646.4 979.4 647.7C979.5 649 979.6 650.4 979.7 651.7C979.8 653 979.8 654.4 979.9 655.7C980 657 980 658.4 980.1 659.7C980.2 661 980.2 662.4 980.2 663.7C980.2 665 980.2 666.4 980.2 667.7C980.2 669 980.2 670.4 980.2 671.7C980.2 673 980.1 674.4 980.1 675.7C980.1 677 980 678.4 980 679.7C980 681 979.8 682.4 979.8 683.7C979.8 685 979.8 686.4 979.7 687.7C979.7 689 979.6 690.4 979.5 691.7C979.4 693 979.3 694.4 979.3 695.7C979.2 697 979.2 698.4 979.2 699.7C979.2 701 979.1 702.3 979.1 703.7C979.1 705.1 979 706.9 979 708.3C979 709.7 979 711 979 712.3C979 713.6 978.9 715 978.9 716.3C978.9 717.6 978.8 719 978.8 720.3C978.8 721.6 978.7 723 978.7 724.3C978.7 725.6 978.6 727 978.6 728.3C978.6 729.6 978.6 731 978.6 732.3C978.6 733.6 978.5 735 978.5 736.3C978.5 737.6 978.4 739 978.4 740.3C978.4 741.6 978.4 743 978.4 744.3C978.4 745.6 978.3 747 978.3 748.3C978.3 749.6 978.3 751 978.3 752.3C978.3 753.6 978.2 755 978.2 756.3C978.2 757.6 978.1 759 978.1 760.3C978.1 761.6 978 763 978 764.3C978 765.6 977.9 767 977.9 768.3C977.9 769.6 977.8 771 977.8 772.3C977.8 773.6 977.6 775 977.6 776.3C977.6 777.6 977.5 779 977.5 780.3C977.5 781.6 977.4 783 977.3 784.3C977.2 785.6 977.1 787 977 788.3C976.9 789.6 976.9 791 976.8 792.3C976.7 793.6 976.6 795 976.5 796.3C976.4 797.6 976.2 799 976.1 800.3C976 801.6 975.9 802.9 975.8 804.2C975.7 805.5 975.5 806.9 975.4 808.2C975.3 809.5 975.1 810.9 975 812.2C974.9 813.5 974.8 814.9 974.6 816.2C974.5 817.5 974.3 818.9 974.1 820.2C973.9 821.5 973.8 822.8 973.6 824.1C973.4 825.4 973.3 826.8 973.1 828.1C972.9 829.4 972.7 830.7 972.5 832C972.3 833.3 972.1 834.7 971.9 836C971.7 837.3 971.5 838.6 971.2 839.9C971 841.2 970.7 842.5 970.4 843.8C970.1 845.1 969.9 846.5 969.6 847.8C969.3 849.1 969 850.3 968.7 851.6C968.4 852.9 968.1 854.2 967.8 855.5C967.5 856.8 967.2 858.1 966.9 859.4C966.6 860.7 966.3 862 966 863.3C965.7 864.6 965.5 866 965.2 867.3C964.9 868.6 964.7 869.9 964.4 871.2C964.1 872.5 963.9 873.8 963.6 875.1C963.3 876.4 963.1 877.7 962.8 879C962.5 880.3 962.2 881.6 961.9 882.9C961.6 884.2 961.4 885.5 961.1 886.8C960.8 888.1 960.5 889.4 960.2 890.7C959.9 892 959.6 893.3 959.3 894.6C959 895.9 958.8 897.2 958.5 898.5C958.2 899.8 957.9 901.1 957.6 902.4C957.3 903.7 957 905 956.7 906.3C956.4 907.6 956.1 909 955.8 910.3C955.5 911.6 955.3 912.9 955 914.2C954.7 915.5 954.4 916.8 954.1 918.1C953.8 919.4 953.6 920.7 953.3 922C953 923.3 952.8 924.6 952.5 925.9C952.2 927.2 952 928.5 951.7 929.8C951.4 931.1 951 932.4 950.7 933.7C950.4 935 950.1 936.2 949.7 937.5C949.4 938.8 949 940 948.6 941.3C948.2 942.6 947.8 943.8 947.3 945.1C946.8 946.4 946.3 947.6 945.9 948.9C945.5 950.1 945 951.4 944.6 952.6C944.2 953.9 943.7 955.1 943.2 956.4C942.7 957.6 942.3 958.9 941.8 960.1C941.3 961.3 940.9 962.6 940.4 963.8C939.9 965 939.4 966.3 938.8 967.5C938.2 968.7 937.6 969.8 937 971C936.4 972.2 935.7 973.4 935 974.5C934.3 975.6 933.6 976.9 933 977.9C932.4 978.9 931.7 980 931.4 980.4" stroke="#00ff00" stroke-width="5.5"/>
<path d="M906.8 980.5C906.2 978.8 904.6 973.6 903.5 970.2C902.4 966.8 901.3 963.4 900.2 960C899.1 956.6 898 953.2 897 949.9C896 946.6 895.1 943.4 894.3 940.1C893.5 936.8 892.8 933.5 892 930.3C891.2 927.1 890.6 923.9 889.8 920.7C889 917.5 888.2 914.4 887.4 911.3C886.6 908.2 885.9 905.1 885.2 902C884.5 898.9 883.8 895.8 883.1 892.8C882.4 889.8 881.8 886.8 881.2 883.8C880.6 880.8 880 877.9 879.4 875C878.8 872.1 878.3 869.2 877.8 866.3C877.3 863.4 876.8 860.6 876.3 857.8C875.8 855 875.4 852.2 875 849.4C874.6 846.6 874.3 843.8 873.9 841.1C873.5 838.4 873.1 835.7 872.8 833C872.5 830.3 872.3 827.6 872 825C871.7 822.4 871.4 819.8 871.2 817.2C871 814.6 870.8 812.1 870.6 809.6C870.4 807.1 870.3 804.6 870.2 802.1C870.1 799.6 869.9 797.1 869.8 794.7C869.7 792.3 869.6 789.9 869.6 787.5C869.6 785.1 869.5 782.7 869.5 780.4C869.5 778.1 869.5 775.8 869.5 773.5C869.5 771.2 869.6 769 869.6 766.8C869.6 764.6 869.7 762.3 869.8 760.1C869.9 757.9 870 755.8 870.1 753.7C870.2 751.6 870.3 749.4 870.4 747.3C870.5 745.2 870.7 743.2 870.9 741.2C871.1 739.2 871.2 737.2 871.4 735.2C871.6 733.2 871.8 731.2 872 729.3C872.2 727.4 872.5 725.5 872.7 723.6C873 721.7 873.2 719.8 873.5 718C873.8 716.2 874 714.4 874.3 712.6C874.6 710.8 874.8 709 875.1 707.3C875.4 705.5 875.7 703.8 876 702.1C876.3 700.4 876.6 698.8 876.9 697.2C877.2 695.6 877.6 693.9 877.9 692.3C878.2 690.7 878.6 689.1 878.9 687.6C879.2 686.1 879.5 684.6 879.9 683.1C880.2 681.6 880.6 680.1 881 678.7C881.4 677.3 881.7 675.9 882.1 674.5C882.5 673.1 882.8 671.7 883.2 670.4C883.6 669.1 883.9 667.8 884.3 666.5C884.7 665.2 885.1 664 885.5 662.7C885.9 661.5 886.2 660.2 886.6 659C887 657.8 887.4 656.6 887.8 655.5C888.2 654.4 888.5 653.3 888.9 652.2C889.3 651.1 889.7 650 890.1 649C890.5 648 890.9 646.9 891.3 645.9C891.7 644.9 892.1 643.9 892.5 643C892.9 642.1 893.3 641.2 893.7 640.3C894.1 639.4 894.4 638.6 894.8 637.7C895.2 636.9 895.6 636 896 635.2C896.4 634.4 896.8 633.6 897.2 632.9C897.6 632.2 898 631.5 898.4 630.8C898.8 630.1 899.1 629.4 899.5 628.8C899.9 628.1 900.3 627.5 900.7 626.9C901.1 626.3 901.5 625.8 901.9 625.2C902.3 624.7 902.6 624.1 903 623.6C903.4 623.1 903.8 622.6 904.2 622.2C904.6 621.8 904.9 621.4 905.3 621C905.7 620.6 906.1 620.1 906.5 619.8C906.9 619.4 907.2 619.2 907.6 618.9C908 618.6 908.4 618.4 908.8 618.1C909.2 617.9 909.5 617.6 909.9 617.4C910.3 617.2 910.7 617 911.1 616.9C911.5 616.8 911.8 616.6 912.2 616.5C912.6 616.4 913 616.3 913.4 616.3C913.8 616.2 914.1 616.2 914.5 616.2C914.9 616.2 915.3 616.2 915.7 616.3C916.1 616.3 916.4 616.4 916.8 616.5C917.2 616.6 917.6 616.8 918 616.9C918.4 617 918.8 617.2 919.2 617.4C919.6 617.6 919.9 617.9 920.3 618.1C920.7 618.4 921.1 618.6 921.5 618.9C921.9 619.2 922.3 619.4 922.7 619.8C923.1 620.1 923.5 620.6 923.9 621C924.3 621.4 924.7 621.8 925.1 622.2C925.5 622.6 926 623.1 926.4 623.6C926.8 624.1 927.2 624.7 927.6 625.2C928 625.8 928.4 626.3 928.8 626.9C929.2 627.5 929.7 628.1 930.1 628.8C930.5 629.4 931 630.1 931.4 630.8C931.8 631.5 932.2 632.2 932.6 632.9C933 633.6 933.5 634.4 933.9 635.2C934.3 636 934.8 636.9 935.2 637.7C935.6 638.6 936.1 639.4 936.5 640.3C936.9 641.2 937.4 642.1 937.8 643C938.2 643.9 938.6 644.9 939.1 645.9C939.6 646.9 940 648 940.5 649C941 650 941.4 651.1 941.8 652.2C942.2 653.3 942.7 654.4 943.1 655.5C943.5 656.6 944 657.8 944.4 659C944.8 660.2 945.3 661.5 945.7 662.7C946.1 664 946.6 665.2 947 666.5C947.4 667.8 947.9 669.1 948.3 670.4C948.7 671.7 949.2 673.1 949.6 674.5C950 675.9 950.5 677.3 950.9 678.7C951.3 680.1 951.8 681.6 952.2 683.1C952.6 684.6 953 686.1 953.4 687.6C953.8 689.1 954.2 690.7 954.6 692.3C955 693.9 955.4 695.6 955.8 697.2C956.2 698.8 956.5 700.4 956.9 702.1C957.3 703.8 957.6 705.5 958 707.3C958.4 709 958.8 710.8 959.1 712.6C959.5 714.4 959.8 716.2 960.1 718C960.4 719.8 960.8 721.7 961.1 723.6C961.4 725.5 961.7 727.4 962 729.3C962.3 731.2 962.5 733.2 962.8 735.2C963 737.2 963.3 739.2 963.5 741.2C963.7 743.2 964 745.2 964.2 747.3C964.4 749.4 964.6 751.6 964.8 753.7C965 755.8 965.1 757.9 965.3 760.1C965.4 762.3 965.6 764.6 965.7 766.8C965.8 769 965.9 771.2 966 773.5C966.1 775.8 966.2 778.1 966.2 780.4C966.2 782.7 966.3 785.1 966.3 787.5C966.3 789.9 966.3 792.3 966.3 794.7C966.3 797.1 966.2 799.6 966.1 802.1C966 804.6 965.9 807.1 965.8 809.6C965.7 812.1 965.6 814.6 965.4 817.2C965.2 819.8 965 822.4 964.8 825C964.6 827.6 964.4 830.3 964.1 833C963.8 835.7 963.5 838.4 963.2 841.1C962.9 843.8 962.5 846.6 962.1 849.4C961.7 852.2 961.4 855 960.9 857.8C960.4 860.6 959.9 863.4 959.4 866.3C958.9 869.2 958.4 872.1 957.9 875C957.4 877.9 956.7 880.8 956.1 883.8C955.5 886.8 954.9 889.8 954.2 892.8C953.5 895.8 952.9 898.9 952.1 902C951.4 905.1 950.5 908.2 949.7 911.3C948.9 914.4 947.9 917.5 947.1 920.7C946.3 923.9 945.5 927.1 944.7 930.3C943.9 933.5 943.1 936.8 942.2 940.1C941.3 943.4 940.4 946.6 939.4 949.9C938.4 953.2 937.3 956.6 936.2 960C935.1 963.4 934 966.8 933 970.2C932 973.6 930.5 978.8 930 980.5" stroke="#0000ff" stroke-width="5.5"/>
</g>
<path d="M46.2 417H130.4V1000" fill="none" stroke="#454545" stroke-width="5.4"/>
<path d="M46.2 998.3H133.1" fill="none" stroke="#b0b0b0" stroke-width="2.4"/>
<path d="M46.2 1001.1H133.1" fill="none" stroke="#000" stroke-width="3.4"/>
<rect x="1231.6" y="48.6" width="366.8" height="102.6" fill="none" stroke="#808080" stroke-width="2.8"/>
<path d="M1231 47.4H1599.8" fill="none" stroke="#c6c6c6" stroke-width="4.6"/>
<path d="M1231 48.7H1599.8" fill="none" stroke="#a2a2a2" stroke-width="2.4"/>
<path d="M1066.1 100h44.3M1135.6 100h44.3M1205.1 100h44.3M1274.4 100h44.3M1343.6 100h44.3M1412.1 100h44.3M1481.1 100h44.3M1550.1 100h44.3M1620.6 100h44.3M1688.2 100h36" fill="none" stroke="#909090" stroke-width="8.2"/>
<path d="M1066.1 100h44.3M1135.6 100h44.3M1205.1 100h44.3M1274.4 100h44.3M1343.6 100h44.3M1412.1 100h44.3M1481.1 100h44.3M1550.1 100h44.3M1620.6 100h44.3M1688.2 100h36M1597 100h24" fill="none" stroke="#000" stroke-width="3.6"/>
<text transform="matrix(0.9160 0 0 0.8167 1087.04 163.78) skewX(-16)" font-size="80" class="th">θ</text>
<path d="M1023 47.6H1208" fill="none" stroke="#ff0000" stroke-width="6"/>
<path d="M1230 47.6L1204.3 34.4L1207 47.6L1204.3 60.8Z" fill="#ff0000"/>
<path d="M1026.3 220L1212 111.3" fill="none" stroke="#ff0000" stroke-width="5.8"/>
<g transform="translate(1231.4 99.8) rotate(-30.5)"><path d="M0 0L-25.8 -13.2L-23 0L-25.8 13.2Z" fill="#ff0000"/></g>
<path d="M1165.5 101.5C1159.5 109.5 1157 117 1159.8 123.5C1162.6 129.2 1169.5 130.8 1177.5 129.4" fill="none" stroke="#ff0000" stroke-width="3.6"/>
<path d="M1485 253.2H1665.6" fill="none" stroke="#000000" stroke-width="6.4"/>
<path d="M1485 349.2H1665.6" fill="none" stroke="#ff0000" stroke-width="6.4"/>
<path d="M1485 444.9H1665.6" fill="none" stroke="#00ff00" stroke-width="6.4"/>
<path d="M1485 539.8H1665.6" fill="none" stroke="#0000ff" stroke-width="6.4"/>
<g>
<text transform="matrix(0.9870 0 0 0.9967 573.19 67.36)" font-size="82">Optical fiber</text>
<g><text transform="matrix(1.0127 0 0 1.0508 881.67 305.47)" font-size="72" stroke="#fff" stroke-width="0.3">90</text>
<text transform="matrix(0.9665 0 0 1.0653 690.42 329.47)" font-size="72" stroke="#fff" stroke-width="0.3">105</text>
<text transform="matrix(1.0148 0 0 1.0863 1054.88 329.66)" font-size="72" stroke="#fff" stroke-width="0.3">75</text>
<text transform="matrix(0.9944 0 0 1.0508 473.44 396.27)" font-size="72" stroke="#fff" stroke-width="0.3">120</text>
<text transform="matrix(1.0258 0 0 1.0508 1255.97 396.27)" font-size="72" stroke="#fff" stroke-width="0.3">60</text>
<text transform="matrix(0.9401 0 0 1.0562 335.29 504.97)" font-size="72" stroke="#fff" stroke-width="0.3">135</text>
<text transform="matrix(0.9896 0 0 1.0618 1396.32 504.97)" font-size="72" stroke="#fff" stroke-width="0.3">45</text>
<text transform="matrix(0.9863 0 0 1.0674 226.19 645.17)" font-size="72" stroke="#fff" stroke-width="0.3">150</text>
<text transform="matrix(1.0418 0 0 1.0425 1502.65 644.58)" font-size="72" stroke="#fff" stroke-width="0.3">30</text>
<text transform="matrix(0.9726 0 0 1.0729 157.98 849.16)" font-size="72" stroke="#fff" stroke-width="0.3">165</text>
<text transform="matrix(0.9280 0 0 1.0729 1575.27 849.16)" font-size="72" stroke="#fff" stroke-width="0.3">15</text>
<text transform="matrix(0.9904 0 0 1.0653 134.76 1024.47)" font-size="72" stroke="#fff" stroke-width="0.3">180</text>
<text transform="matrix(1.0393 0 0 1.0425 1594.84 1023.88)" font-size="72" stroke="#fff" stroke-width="0.3">0</text></g>
<g><text transform="matrix(0.7080 0 0 1.0147 14.70 443.90)" font-size="72" stroke="#fff" stroke-width="0.3">1</text><text transform="matrix(0.9770 0 0 1.0093 7.31 1016.70)" font-size="72" stroke="#fff" stroke-width="0.3">0</text></g>
<g><text transform="matrix(0.8497 0 0 0.8563 1675.70 280.23) skewX(-16)" font-size="80" class="th">θ</text><text transform="matrix(1.1081 0 0 0.8164 1717.12 275.84)" font-size="72" fill="#2a2a2a">=</text><text transform="matrix(0.9703 0 0 1.0271 1756.65 280.19)" font-size="72" stroke="#fff" stroke-width="0.3">23</text><text transform="matrix(1.0843 0 0 1.0762 1827.26 282.52)" font-size="72" stroke="#fff" stroke-width="1.0">°</text></g>
<g><text transform="matrix(0.8497 0 0 0.8563 1675.70 376.23) skewX(-16)" font-size="80" class="th">θ</text><text transform="matrix(1.1081 0 0 0.8164 1717.12 371.84)" font-size="72" fill="#2a2a2a">=</text><text transform="matrix(0.9386 0 0 1.0114 1759.60 375.69)" font-size="72" stroke="#fff" stroke-width="0.3">18</text><text transform="matrix(1.0843 0 0 1.0762 1827.26 378.52)" font-size="72" stroke="#fff" stroke-width="1.0">°</text></g>
<g><text transform="matrix(0.8497 0 0 0.8563 1675.70 471.93) skewX(-16)" font-size="80" class="th">θ</text><text transform="matrix(1.1081 0 0 0.8164 1717.12 467.54)" font-size="72" fill="#2a2a2a">=</text><text transform="matrix(0.9588 0 0 1.0021 1759.47 470.70)" font-size="72" stroke="#fff" stroke-width="0.3">14</text><text transform="matrix(1.0843 0 0 1.0762 1827.26 474.22)" font-size="72" stroke="#fff" stroke-width="1.0">°</text></g>
<g><text transform="matrix(0.8497 0 0 0.8563 1675.70 566.83) skewX(-16)" font-size="80" class="th">θ</text><text transform="matrix(1.1081 0 0 0.8164 1717.12 562.44)" font-size="72" fill="#2a2a2a">=</text><text transform="matrix(0.8984 0 0 1.0021 1759.95 567.00)" font-size="72" stroke="#fff" stroke-width="0.3">9</text><text transform="matrix(0.9928 0 0 1.0333 1793.63 568.48)" font-size="72" stroke="#fff" stroke-width="1.0">°</text></g>
</g>
</svg>
</body>
</html>
